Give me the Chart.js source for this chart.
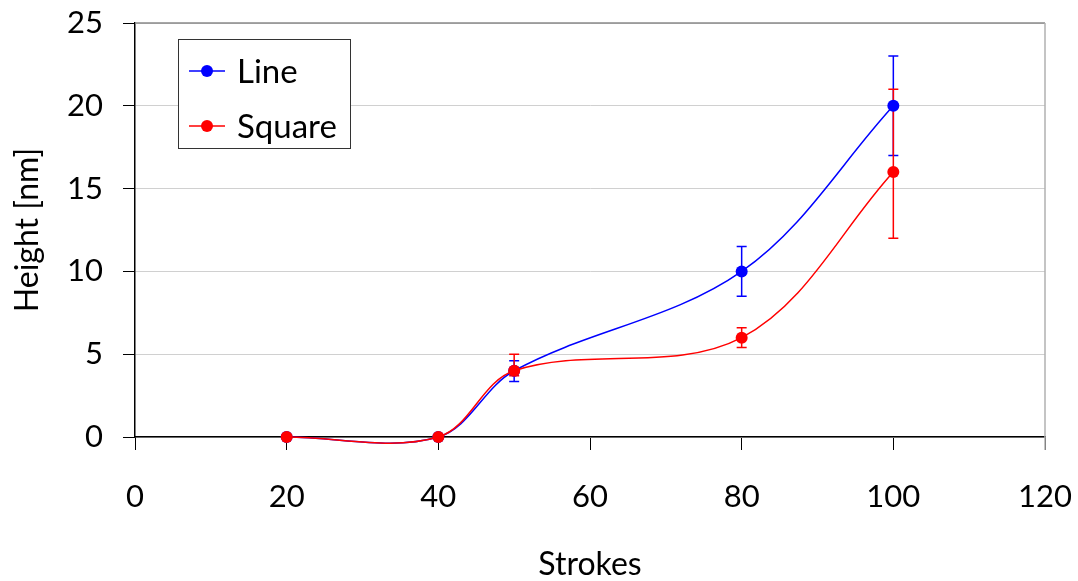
<!DOCTYPE html>
<html lang="en">
<head>
<meta charset="UTF-8">
<title>Height vs Strokes</title>
<script src="https://cdn.jsdelivr.net/npm/chart.js@4.4.0/dist/chart.umd.min.js"></script>
<style>
  html, body { margin: 0; padding: 0; background: #fff; }
  #wrap { width: 1078px; height: 581px; }
</style>
</head>
<body>
<div id="wrap"><canvas id="chart" width="1078" height="581"></canvas></div>
<script>
// measured heights per number of strokes
const strokes = [20, 40, 50, 80, 100];
const lineHeights = [0, 0, 4, 10, 20];
const squareHeights = [0, 0, 4, 6, 16];

// error bars (upper / lower extent)
const lineErrUp = [0, 0, 0.6, 1.5, 3];
const lineErrDown = [0, 0, 0.65, 1.5, 3];
const squareErrUp = [0, 0, 1, 0.6, 5];
const squareErrDown = [0, 0, 0.3, 0.6, 4];

const xTicks = [0, 20, 40, 60, 80, 100, 120];
const yTicks = [0, 5, 10, 15, 20, 25];

const FONT = 'Lato, "Open Sans", sans-serif';
Chart.defaults.font.family = FONT;
Chart.defaults.color = '#000';

function points(ys) {
  return strokes.map((x, i) => ({ x: x, y: ys[i] }));
}

// error bars under the markers, square series last so it sits on top
const errorBars = {
  id: 'errorBars',
  beforeDatasetsDraw(chart) {
    const { ctx, scales: { x, y } } = chart;
    const sets = [
      { color: '#0000ff', vals: lineHeights, up: lineErrUp, down: lineErrDown },
      { color: '#ff0000', vals: squareHeights, up: squareErrUp, down: squareErrDown }
    ];
    ctx.save();
    sets.forEach(s => {
      ctx.strokeStyle = s.color;
      ctx.lineWidth = 1.5;
      strokes.forEach((sx, i) => {
        if (!s.up[i] && !s.down[i]) return;
        const px = x.getPixelForValue(sx);
        const top = y.getPixelForValue(s.vals[i] + s.up[i]);
        const bot = y.getPixelForValue(s.vals[i] - s.down[i]);
        ctx.beginPath();
        ctx.moveTo(px, top); ctx.lineTo(px, bot);
        ctx.moveTo(px - 5, top); ctx.lineTo(px + 5, top);
        ctx.moveTo(px - 5, bot); ctx.lineTo(px + 5, bot);
        ctx.stroke();
      });
    });
    ctx.restore();
  }
};

// gray frame on the top and right of the plot area
const plotFrame = {
  id: 'plotFrame',
  beforeDatasetsDraw(chart) {
    const { ctx, chartArea: a } = chart;
    ctx.save();
    ctx.lineWidth = 1.5;
    ctx.strokeStyle = '#8a8a8a';
    ctx.beginPath();
    ctx.moveTo(a.left, a.top); ctx.lineTo(a.right, a.top);
    ctx.stroke();
    ctx.strokeStyle = '#b0b0b0';
    ctx.beginPath();
    ctx.moveTo(a.right, a.top); ctx.lineTo(a.right, a.bottom + 13);
    ctx.stroke();
    ctx.restore();
  }
};

// boxed legend inside the plot area
const boxLegend = {
  id: 'boxLegend',
  afterDraw(chart) {
    const { ctx } = chart;
    const bx = 178.5, by = 39.5, bw = 172, bh = 109;
    ctx.save();
    ctx.fillStyle = '#fff';
    ctx.fillRect(bx, by, bw, bh);
    ctx.strokeStyle = '#333';
    ctx.lineWidth = 1;
    ctx.strokeRect(bx, by, bw, bh);
    chart.data.datasets.forEach((ds, i) => {
      const ry = 71 + i * 55;
      ctx.strokeStyle = ds.borderColor;
      ctx.lineWidth = 1.5;
      ctx.beginPath();
      ctx.moveTo(189, ry); ctx.lineTo(225, ry);
      ctx.stroke();
      ctx.fillStyle = ds.backgroundColor;
      ctx.beginPath();
      ctx.arc(207, ry, 6, 0, Math.PI * 2);
      ctx.fill();
      ctx.fillStyle = '#000';
      ctx.font = '33px ' + FONT;
      ctx.textBaseline = 'middle';
      ctx.textAlign = 'left';
      ctx.fillText(ds.label, 237, ry + 1);
    });
    ctx.restore();
  }
};

// drop the extra room chart.js reserves for overhanging edge labels
function noEdgePad(s) {
  s.paddingTop = 0; s.paddingBottom = 0;
  s.paddingLeft = 0; s.paddingRight = 0;
}

new Chart(document.getElementById('chart'), {
  type: 'line',
  data: {
    datasets: [
      {
        label: 'Line',
        data: points(lineHeights),
        borderColor: '#0000ff',
        backgroundColor: '#0000ff',
        borderWidth: 1.5,
        pointRadius: 6,
        pointBorderWidth: 0,
        tension: 0.35,
        clip: false,
        order: 1
      },
      {
        label: 'Square',
        data: points(squareHeights),
        borderColor: '#ff0000',
        backgroundColor: '#ff0000',
        borderWidth: 1.5,
        pointRadius: 6,
        pointBorderWidth: 0,
        tension: 0.35,
        clip: false,
        order: 0
      }
    ]
  },
  options: {
    responsive: false,
    animation: false,
    events: [],
    layout: { padding: { top: 23, right: 33, left: 0, bottom: 0 } },
    elements: { line: { capBezierPoints: false } },
    plugins: { legend: { display: false }, tooltip: { enabled: false } },
    scales: {
      x: {
        type: 'linear',
        min: 0,
        max: 120,
        afterBuildTicks: s => { s.ticks = xTicks.map(v => ({ value: v })); },
        afterFit: s => { s.height = 144; noEdgePad(s); },
        grid: { drawOnChartArea: false, tickLength: 13, tickColor: '#000', tickWidth: 1 },
        border: { color: '#000', width: 1.5 },
        ticks: { font: { size: 31 }, padding: 28, maxRotation: 0 },
        title: { display: true, text: 'Strokes', font: { size: 32, lineHeight: 1 }, padding: { top: 0, bottom: 0 } }
      },
      y: {
        min: 0,
        max: 25,
        afterBuildTicks: s => { s.ticks = yTicks.map(v => ({ value: v })); },
        afterFit: s => { s.width = 135; noEdgePad(s); },
        grid: { color: '#d0d0d0', tickLength: 12, tickColor: '#000', tickWidth: 1 },
        border: { color: '#000', width: 1.5 },
        ticks: { font: { size: 31 }, padding: 20 },
        title: { display: true, text: 'Height [nm]', font: { size: 32, lineHeight: 1.2 }, padding: { top: 8, bottom: 0 } }
      }
    }
  },
  plugins: [plotFrame, errorBars, boxLegend]
});
</script>
</body>
</html>
